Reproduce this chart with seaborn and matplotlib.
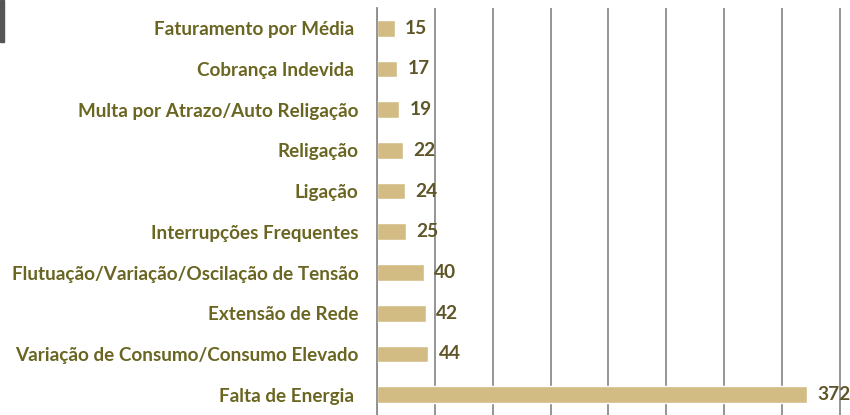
import numpy as np
import pandas as pd
import matplotlib
matplotlib.use("Agg")
import matplotlib.pyplot as plt
import seaborn as sns
from matplotlib.patches import Rectangle

# ---------- Data ----------
categorias = [
    "Faturamento por Média ",
    "Cobrança Indevida ",
    "Multa por Atrazo/Auto Religação",
    "Religação",
    "Ligação",
    "Interrupções Frequentes",
    "Flutuação/Variação/Oscilação de Tensão",
    "Extensão de Rede",
    "Variação de Consumo/Consumo Elevado",
    "Falta de Energia ",
]
valores = [15, 17, 19, 22, 24, 25, 40, 42, 44, 372]
grade_x = [0, 50, 100, 150, 200, 250, 300, 350, 400]

df = pd.DataFrame({"categoria": categorias, "valor": valores})

# ---------- Style ----------
sns.set_style("white")
plt.rcParams["font.family"] = ["Lato", "DejaVu Sans"]

COR_BARRA = "#D2BC84"
COR_TEXTO = "#6A6622"
COR_VALOR = "#5E5628"
COR_GRADE = "#8C8C8C"

fig = plt.figure(figsize=(8.5, 4.15), dpi=100)
ax = fig.add_axes([377.3 / 850, 0.0, 1 - 377.3 / 850, (415 - 7.9) / 415])

sns.barplot(data=df, x="valor", y="categoria", color=COR_BARRA,
            width=0.41, saturation=1, ax=ax, orient="h")

# value labels
for i, v in enumerate(valores):
    ax.annotate(f"{v}", xy=(v, i), xytext=(7.5, 0), textcoords="offset points",
                ha="left", va="center", fontsize=13.8, fontweight="bold",
                color=COR_VALOR, annotation_clip=False)

ax.set_xlim(0, 409)
ax.set_ylim(9.448, -0.5)
ax.set_xticks(grade_x)
ax.set_xticklabels([])
ax.tick_params(axis="x", length=0)
ax.xaxis.grid(True, color=COR_GRADE, linewidth=1.3)
ax.set_axisbelow(True)

ax.set_yticks(np.arange(len(categorias)))
ax.set_yticklabels(categorias, fontsize=13.6, fontweight="bold", color=COR_TEXTO)
ax.tick_params(axis="y", which="major", length=0, pad=13.5)
ax.set_yticks(np.arange(len(categorias) + 1) - 0.5, minor=True)
ax.tick_params(axis="y", which="minor", length=5, width=1.2, color=COR_GRADE, direction="out")

ax.set_xlabel("")
ax.set_ylabel("")
for s in ["top", "right", "bottom"]:
    ax.spines[s].set_visible(False)
ax.spines["left"].set_color(COR_GRADE)
ax.spines["left"].set_linewidth(1.3)

# dark corner band at top-left of the slide
fig.patches.append(Rectangle((0, 1 - 42 / 415), 3.5 / 850, 42 / 415,
                             transform=fig.transFigure, color="#555555", zorder=0))

fig.savefig("out.png", dpi=100)
